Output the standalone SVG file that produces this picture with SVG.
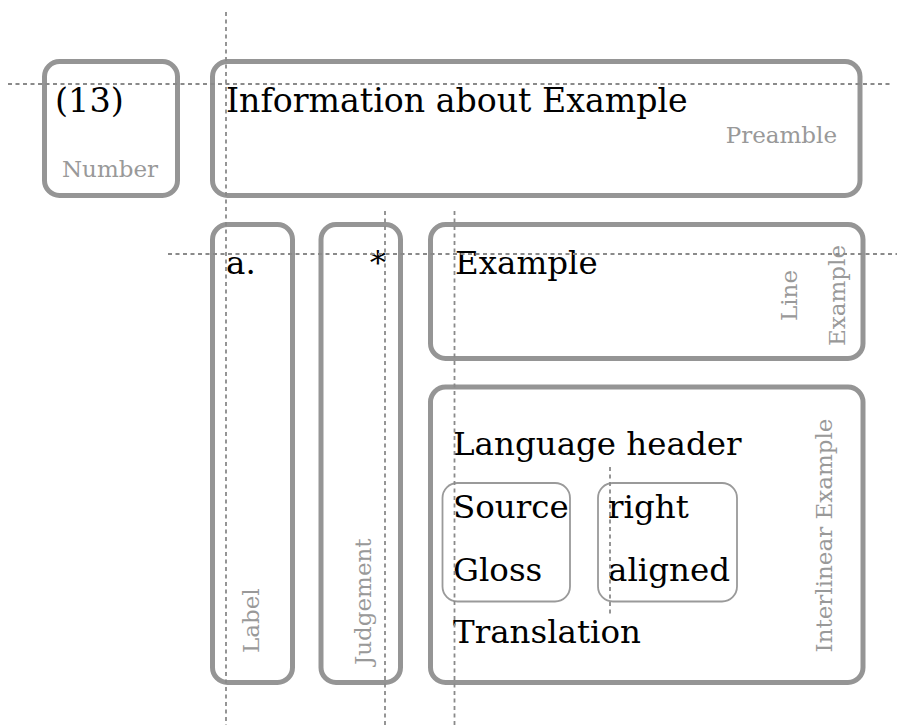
<svg xmlns="http://www.w3.org/2000/svg" width="899" height="725" viewBox="0 0 899 725">
<style>
.box{fill:none;stroke:#959595;stroke-width:5}
.inner{fill:none;stroke:#9a9a9a;stroke-width:1.8}
.guide{fill:none;stroke:#8a8a8a;stroke-width:1.8;stroke-dasharray:4 3.5}
.t{font-family:"DejaVu Serif","Liberation Serif",serif;font-size:32.5px;fill:#000}
.lab{font-family:"DejaVu Serif","Liberation Serif",serif;font-size:23px;fill:#999}
</style>
<rect width="899" height="725" fill="#fff"/>
<g id="number">
<rect class="box" x="44.5" y="61.5" width="133" height="134" rx="15"/>
<text class="t" x="55" y="112" style="font-size:33.5px">(13)</text>
<text class="lab" x="110" y="177" text-anchor="middle">Number</text>
</g>
<g id="preamble">
<rect class="box" x="212.5" y="61.5" width="647.5" height="134" rx="15"/>
<text class="t" x="226" y="112" style="font-size:33.2px">Information about Example</text>
<text class="lab" x="837" y="143" text-anchor="end">Preamble</text>
</g>
<g id="label">
<rect class="box" x="212.5" y="224.5" width="80" height="458" rx="15"/>
<text class="t" x="226" y="274">a.</text>
<text class="lab" transform="translate(259,653) rotate(-90)">Label</text>
</g>
<g id="judgement">
<rect class="box" x="321" y="224.5" width="79.5" height="458" rx="15"/>
<text class="t" x="386" y="274" text-anchor="end">*</text>
<text class="lab" transform="translate(371,665) rotate(-90)">Judgement</text>
</g>
<g id="line-example">
<rect class="box" x="430.5" y="224.5" width="432.5" height="134" rx="15"/>
<text class="t" x="455" y="274">Example</text>
<text class="lab" transform="translate(797,295.5) rotate(-90)" text-anchor="middle">Line</text>
<text class="lab" transform="translate(845,295.5) rotate(-90)" text-anchor="middle">Example</text>
</g>
<g id="interlinear-example">
<rect class="box" x="430.5" y="387" width="432.5" height="295.5" rx="15"/>
<text class="t" x="453" y="455">Language header</text>
<text class="t" x="453" y="643">Translation</text>
<text class="lab" transform="translate(832,535.5) rotate(-90)" text-anchor="middle">Interlinear Example</text>
</g>
<g id="source-gloss">
<rect class="inner" x="442.5" y="483" width="127.5" height="118.5" rx="15"/>
<text class="t" x="453" y="518">Source</text>
<text class="t" x="453" y="581">Gloss</text>
</g>
<g id="right-aligned">
<rect class="inner" x="598" y="483" width="139" height="118.5" rx="15"/>
<text class="t" x="608" y="518">right</text>
<text class="t" x="608" y="581">aligned</text>
</g>
<g id="connectors">
<line class="guide" x1="8" y1="84" x2="890" y2="84"/>
<line class="guide" x1="226" y1="12" x2="226" y2="725"/>
<line class="guide" x1="168" y1="254" x2="897" y2="254"/>
<line class="guide" x1="385" y1="211" x2="385" y2="725"/>
<line class="guide" x1="454.5" y1="211" x2="454.5" y2="725"/>
<line class="guide" x1="610" y1="467" x2="610" y2="616"/>
</g>
</svg>
